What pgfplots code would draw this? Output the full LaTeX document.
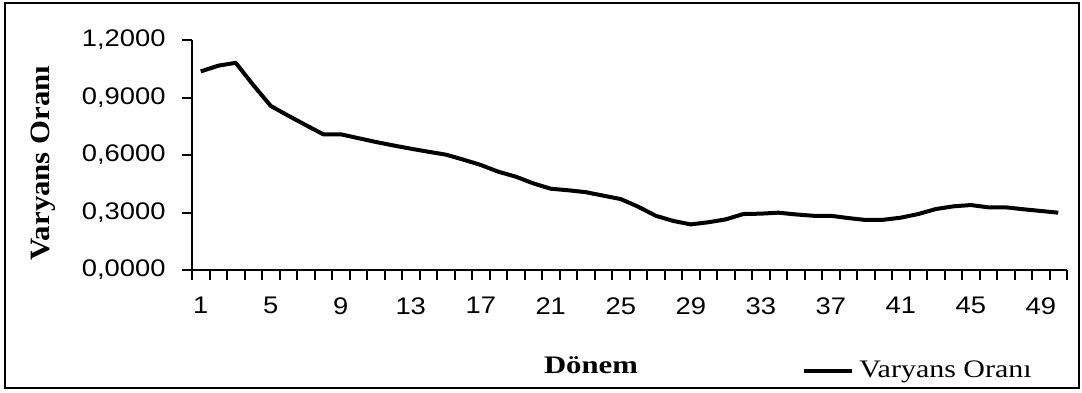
\documentclass[border=0pt]{standalone}
\usepackage{fontspec}
\usepackage{pgfplots}
\usepackage{pgfplotstable}
\pgfplotsset{compat=1.18}
\newfontfamily\tickfont[FakeStretch=1.14]{Liberation Sans}
\newfontfamily\labfont[FakeStretch=1.22]{Liberation Serif}
\newfontfamily\ylabfont[FakeStretch=1.1]{Liberation Serif}
\newfontfamily\legfont[FakeStretch=1.19]{Liberation Serif}
\newcommand{\tf}{\tickfont\fontsize{12}{14}\selectfont}
\pgfplotstableread{
x y
1 1.036
2 1.066
3 1.081
4 0.965
5 0.856
6 0.805
7 0.756
8 0.708
9 0.708
10 0.688
11 0.668
12 0.650
13 0.633
14 0.617
15 0.602
16 0.576
17 0.548
18 0.513
19 0.487
20 0.452
21 0.424
22 0.416
23 0.406
24 0.388
25 0.370
26 0.330
27 0.283
28 0.256
29 0.238
30 0.249
31 0.264
32 0.292
33 0.294
34 0.299
35 0.290
36 0.283
37 0.283
38 0.271
39 0.261
40 0.262
41 0.273
42 0.292
43 0.318
44 0.332
45 0.339
46 0.327
47 0.327
48 0.317
49 0.308
50 0.299
}\datatable
\begin{document}
\begin{tikzpicture}
\useasboundingbox (0,0) rectangle (541pt,196pt);
\draw[line width=1pt] (2.5pt,2pt) rectangle (539.5pt,194.5pt);
\begin{axis}[
  at={(96pt,61pt)}, anchor=south west,
  scale only axis, width=437.5pt, height=115pt,
  xmin=0.5, xmax=50.5, ymin=0, ymax=1.2,
  axis x line*=bottom, axis y line*=left,
  axis line style={line width=1pt, -},
  tick align=outside,
  tick style={line width=1pt, black},
  major tick length=5pt,
  xtick={0.5,1.5,...,50.5},
  xticklabels={},
  extra x ticks={1,5,9,13,17,21,25,29,33,37,41,45,49},
  extra x tick labels={\tf 1,\tf 5,\tf 9,\tf 13,\tf 17,\tf 21,\tf 25,\tf 29,\tf 33,\tf 37,\tf 41,\tf 45,\tf 49},
  extra x tick style={major tick length=0pt},
  ytick={0,0.3,0.6,0.9,1.2},
  yticklabels={{\tf 0,0000},{\tf 0,3000},{\tf 0,6000},{\tf 0,9000},{\tf 1,2000}},
  /pgf/number format/assume math mode=true,
  tick label style={font=\tf, inner sep=0pt},
  yticklabel style={anchor=east, xshift=-8pt},
  xticklabel style={anchor=north, yshift=-13.5pt},
  xlabel={Dönem},
  xlabel style={at={(axis description cs:0.456,-0.448)}, anchor=base, inner sep=0pt,
    font=\labfont\bfseries\fontsize{12.6}{14}\selectfont},
  ylabel={Varyans Oranı},
  ylabel style={at={(axis description cs:-0.170,0.465)}, anchor=center, inner sep=0pt,
    font=\ylabfont\bfseries\fontsize{14}{16}\selectfont},
  legend style={draw=none, fill=none, at={(axis description cs:0.6971,-0.439)}, anchor=west,
    inner sep=0pt, font=\legfont\fontsize{12.6}{14}\selectfont,
    nodes={inner xsep=2.5pt, inner ysep=0pt}},
  legend image code/.code={\draw[#1] (0pt,0pt) -- (24pt,0pt);},
]
\addplot[black, line width=2pt, line join=round] table[x=x,y=y] {\datatable};
\addlegendentry{Varyans Oranı}
\end{axis}
\end{tikzpicture}
\end{document}
